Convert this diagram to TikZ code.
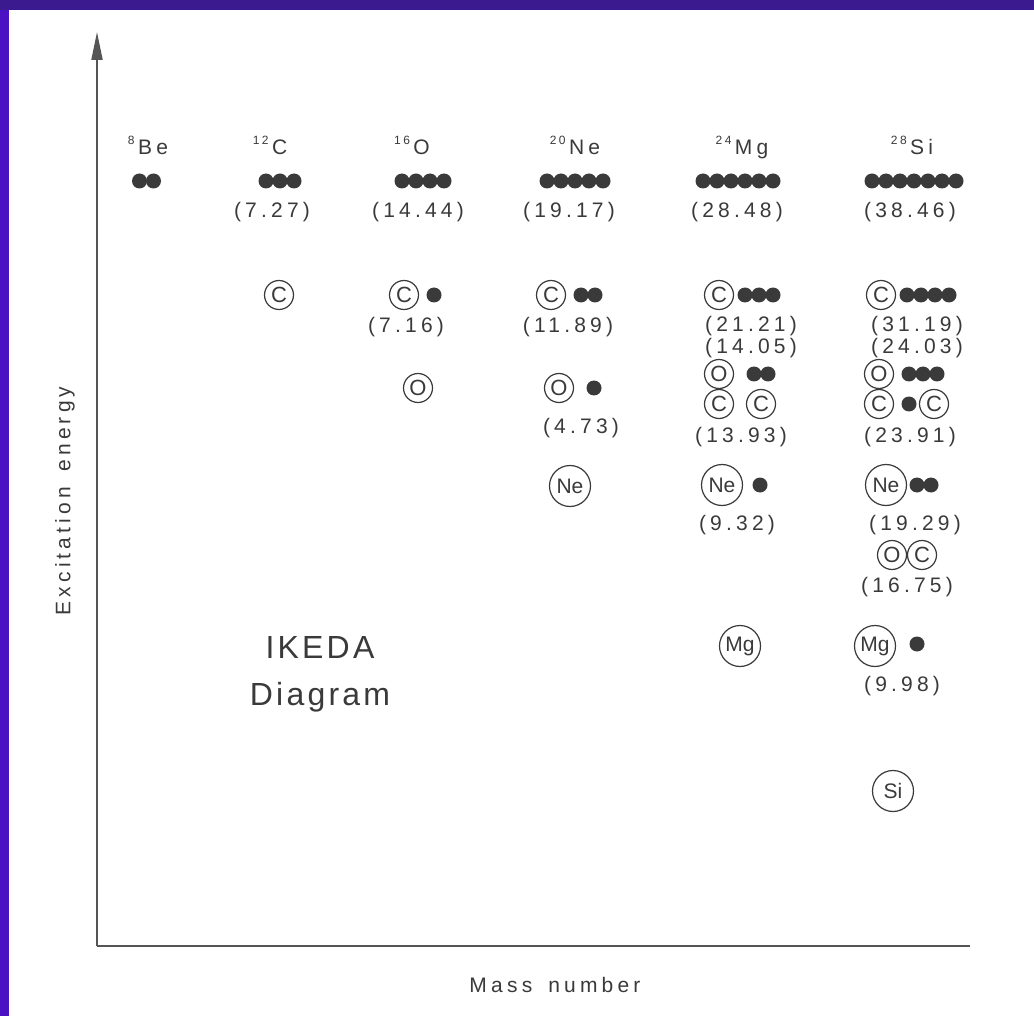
\documentclass[tikz,border=0pt]{standalone}
\usepackage{fontspec}
\setmainfont{Liberation Sans}[LetterSpace=20]
\newfontfamily\plainfont{Liberation Sans}
\newfontfamily\titlefont{Liberation Sans}[LetterSpace=10]
\usetikzlibrary{arrows.meta}
\definecolor{ink}{HTML}{3A3A3A}
\definecolor{axisgrey}{HTML}{555555}
\definecolor{bgtop}{HTML}{3A1A8E}
\definecolor{bgleft}{HTML}{4A12C2}
\newcommand\iso[2]{\raisebox{0.5em}{\fontsize{12}{12}\selectfont #1}\,#2}
\newcommand\dotrow[4]{\foreach \i in {1,...,#4}{\node[dot] (#1-\i) at ({#2+14*(\i-1)},#3) {};}}
\begin{document}
\begin{tikzpicture}[x=1pt,y=-1pt,
  txt/.style={text=ink, inner sep=0pt, font=\fontsize{21}{21}\selectfont},
  val/.style={txt},
  dot/.style={circle, fill=ink, inner sep=0pt, minimum size=15pt},
  sm/.style={circle, draw=ink, line width=1.2pt, inner sep=0pt, minimum size=29pt, text=ink, font=\plainfont\fontsize{22}{22}\selectfont},
  big/.style={sm, minimum size=41pt, font=\plainfont\fontsize{21}{21}\selectfont},
  axis/.style={draw=axisgrey, line width=2pt}]
% background
\fill[bgleft] (0,0) rectangle (1034,1016);
\fill[bgtop] (0,0) rectangle (1034,10);
\fill[white] (9,10) rectangle (1034,1016);
\useasboundingbox (0,0) rectangle (1034,1016);
% axes
\coordinate (orig) at (97,946);
\coordinate (ytip) at (97,32);
\coordinate (xend) at (970,946);
\draw[axis, -{Triangle[length=28pt,width=11pt]}] (orig) -- (ytip);
\draw[axis] (orig) -- (xend);
\node[txt, rotate=90] (ylab) at (65,501) {Excitation\hspace{5pt} energy};
\node[txt] (xlab) at (555,985) {Mass\hspace{6pt} number};
% header labels
\node[txt, anchor=base] (hBe) at (148,155) {\iso{8}{Be}};
\node[txt, anchor=base] (hC) at (270,155) {\iso{12}{C}};
\node[txt, anchor=base] (hO) at (412,155) {\iso{16}{O}};
\node[txt, anchor=base] (hNe) at (575,155) {\iso{20}{Ne}};
\node[txt, anchor=base] (hMg) at (742,155) {\iso{24}{Mg}};
\node[txt, anchor=base] (hSi) at (912,155) {\iso{28}{Si}};
% alpha chains
\dotrow{aBe}{139.5}{181}{2}
\dotrow{aC}{266}{181}{3}
\dotrow{aO}{402}{181}{4}
\dotrow{aNe}{547}{181}{5}
\dotrow{aMg}{703}{181}{6}
\dotrow{aSi}{872}{181}{7}
\node[val] (vC) at (272,212) {(7.27)};
\node[val] (vO) at (418,212) {(14.44)};
\node[val] (vNe) at (569,212) {(19.17)};
\node[val] (vMg) at (737,212) {(28.48)};
\node[val] (vSi) at (910,212) {(38.46)};
% C column
\node[sm] (cC) at (279,295) {C};
% O column
\node[sm] (oC) at (404,295) {C};
\dotrow{oCa}{434}{295}{1}
\node[val] (oCv) at (406,327) {(7.16)};
\node[sm] (oO) at (418,388) {O};
% Ne column
\node[sm] (nC) at (551,295) {C};
\dotrow{nCa}{581}{295}{2}
\node[val] (nCv) at (568,327) {(11.89)};
\node[sm] (nO) at (559,388) {O};
\dotrow{nOa}{594}{388}{1}
\node[val] (nOv) at (581,428) {(4.73)};
\node[big] (nNe) at (570,486) {Ne};
% Mg column
\node[sm] (mC) at (719,295) {C};
\dotrow{mCa}{745}{295}{3}
\node[val] (mCv) at (751,326) {(21.21)};
\node[val] (mOv) at (751,348) {(14.05)};
\node[sm] (mO) at (719,374) {O};
\dotrow{mOa}{754}{374}{2}
\node[sm] (mC1) at (719,404) {C};
\node[sm] (mC2) at (761,404) {C};
\node[val] (mCCv) at (741,437) {(13.93)};
\node[big] (mNe) at (722,485) {Ne};
\dotrow{mNea}{760}{485}{1}
\node[val] (mNev) at (737,525) {(9.32)};
\node[big] (mMg) at (740,646) {Mg};
% Si column
\node[sm] (sC) at (881,295) {C};
\dotrow{sCa}{907}{295}{4}
\node[val] (sCv) at (917,326) {(31.19)};
\node[val] (sOv) at (917,348) {(24.03)};
\node[sm] (sO) at (879,374) {O};
\dotrow{sOa}{909}{374}{3}
\node[sm] (sC1) at (879,404) {C};
\dotrow{sCCa}{909}{404}{1}
\node[sm] (sC2) at (934,404) {C};
\node[val] (sCCv) at (910,437) {(23.91)};
\node[big] (sNe) at (886,485) {Ne};
\dotrow{sNea}{917}{485}{2}
\node[val] (sNev) at (915,525) {(19.29)};
\node[sm] (sO2) at (892,555) {O};
\node[sm] (sC3) at (922,555) {C};
\node[val] (sOCv) at (907,587) {(16.75)};
\node[big] (sMg) at (875,646) {Mg};
\dotrow{sMga}{917}{644}{1}
\node[val] (sMgv) at (902,686) {(9.98)};
\node[big] (sSi) at (893,791) {Si};
% title
\node[txt, font=\titlefont\fontsize{32}{32}\selectfont, anchor=base] (t1) at (320,658) {IKEDA};
\node[txt, font=\titlefont\fontsize{32}{32}\selectfont, anchor=base] (t2) at (320,705) {Diagram};
\end{tikzpicture}
\end{document}
